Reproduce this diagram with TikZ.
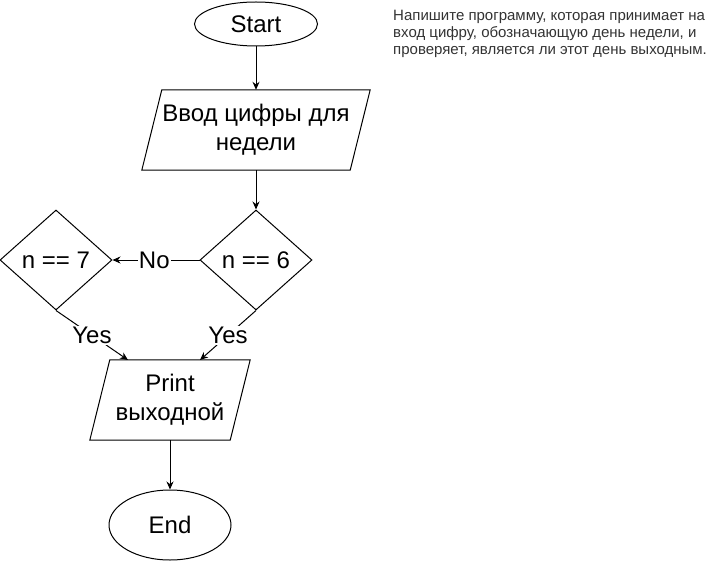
\documentclass[tikz,border=0pt]{standalone}
\usepackage{fontspec}
\setmainfont{Liberation Sans}
\usetikzlibrary{arrows.meta, positioning, shapes.geometric}

\begin{document}
\begin{tikzpicture}[x=1pt, y=-1pt,
    every node/.style={font=\fontsize{24}{29}\selectfont, align=center},
    terminal/.style={ellipse, draw, line width=1pt, inner sep=0pt},
    iobox/.style={rectangle, inner sep=0pt, minimum height=80},
    outline/.style={line width=1pt, line join=miter},
    decision/.style={diamond, draw, line width=1pt, inner sep=0pt,
        minimum width=112, minimum height=100},
    flow/.style={-{Stealth[length=8pt, width=7pt]}, line width=1pt},
    edgelabel/.style={fill=white, inner sep=1pt},
    note/.style={font=\fontsize{15}{17}\selectfont, text=black!80, align=left, inner sep=0pt}]

    \useasboundingbox (0,0) rectangle (711,561);

    % START
    \node[terminal, minimum width=123, minimum height=44] (start) at (256,24) {Start};

    % INPUT OF THE DAY
    \node[iobox, minimum width=208] (input) at (256,130) {Ввод цифры для\\недели};
    \draw[outline] ([xshift=-10pt]input.south west) -- ([xshift=-10pt]input.south east)
        -- ([xshift=10pt]input.north east) -- ([xshift=10pt]input.north west) -- cycle;

    % DECISIONS
    \node[decision] (six) at (256,260) {n == 6};
    \node[decision] (seven) at (56,260) {n == 7};

    % OUTPUT
    \node[iobox, minimum width=140] (print) at (170,400) {Print\\выходной};
    \draw[outline] ([xshift=-10pt]print.south west) -- ([xshift=-10pt]print.south east)
        -- ([xshift=10pt]print.north east) -- ([xshift=10pt]print.north west) -- cycle;

    % END
    \node[terminal, minimum width=122, minimum height=70] (end) at (170,525) {End};

    % TASK TEXT
    \node[note, anchor=north west] (task) at (393,10)
        {Напишите программу, которая принимает на\\
         вход цифру, обозначающую день недели, и\\
         проверяет, является ли этот день выходным.};

    % CONNECTORS
    \coordinate (yes7) at (128,360);
    \coordinate (yes6) at (200,360);

    \draw[flow] (start) -- (input);
    \draw[flow] (input) -- (six);
    \draw[flow] (six) -- node[edgelabel, pos=0.52] {No} (seven);
    \draw[flow] (seven.south) -- node[edgelabel] {Yes} (yes7);
    \draw[flow] (six.south) -- node[edgelabel] {Yes} (yes6);
    \draw[flow] (print) -- (end);

\end{tikzpicture}
\end{document}
